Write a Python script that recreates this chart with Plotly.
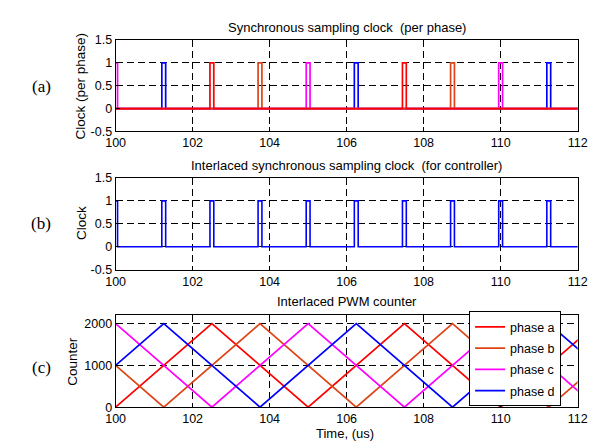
import plotly.graph_objects as go

W, H = 598, 443

# ---------------- data ----------------
phases = ["phase a", "phase b", "phase c", "phase d"]
colors = {"phase a": "#FF0000", "phase b": "#DD4416", "phase c": "#FF00FF", "phase d": "#0000FF"}

# sampling-clock pulse centre times (us) per phase
pulse_times = {
    "phase a": [102.5, 107.5],
    "phase b": [103.75, 108.75],
    "phase c": [100.0, 105.0, 110.0],
    "phase d": [101.25, 106.25, 111.25],
}
pulse_width = 0.1

# PWM counter vertices (time us, counter value)
counter_t = {
    "phase a": [100.0, 102.5, 105.0, 107.5, 110.0, 112.5],
    "phase b": [100.0, 101.25, 103.75, 106.25, 108.75, 111.25, 113.75],
    "phase c": [100.0, 102.5, 105.0, 107.5, 110.0, 112.5],
    "phase d": [100.0, 101.25, 103.75, 106.25, 108.75, 111.25, 113.75],
}
counter_v = {
    "phase a": [0, 2000, 0, 2000, 0, 2000],
    "phase b": [1000, 0, 2000, 0, 2000, 0, 2000],
    "phase c": [2000, 0, 2000, 0, 2000, 0],
    "phase d": [1000, 2000, 0, 2000, 0, 2000, 0],
}

x_ticks = [100, 102, 104, 106, 108, 110, 112]
clock_ticks = [-0.5, 0, 0.5, 1, 1.5]
clock_tick_text = ["-0.5", "0", "0.5", "1", "1.5"]
counter_ticks = [0, 1000, 2000]


def pulse_wave(times, w):
    xs, ys = [98.0], [0]
    for t in sorted(times):
        a, b = t - w / 2, t + w / 2
        xs += [a, a, b, b]
        ys += [0, 1, 1, 0]
    xs.append(114.0)
    ys.append(0)
    return xs, ys


fig = go.Figure()

# (a) per-phase clocks
for p in ["phase d", "phase c", "phase b", "phase a"]:
    xs, ys = pulse_wave(pulse_times[p], pulse_width)
    fig.add_trace(go.Scatter(x=xs, y=ys, mode="lines", line=dict(color=colors[p], width=1.7),
                             showlegend=False, xaxis="x", yaxis="y"))

# (b) interlaced clock
all_times = sorted(t for p in phases for t in pulse_times[p])
xs, ys = pulse_wave(all_times, pulse_width)
fig.add_trace(go.Scatter(x=xs, y=ys, mode="lines", line=dict(color="#0000FF", width=1.6),
                         showlegend=False, xaxis="x2", yaxis="y2"))

# (c) counters
for p in phases:
    fig.add_trace(go.Scatter(x=counter_t[p], y=counter_v[p], mode="lines", name=p,
                             legendgroup=p,
                             line=dict(color=colors[p], width=1.7),
                             xaxis="x3", yaxis="y3"))


def px2x(px):
    return px / W


def py2y(py):
    return 1 - py / H


xdom = [px2x(101), px2x(579)]
doms = {
    "a": [py2y(120.3), py2y(25.7)],
    "b": [py2y(263), py2y(168.3)],
    "c": [py2y(405), py2y(310)],
}

SANS = "Liberation Sans, Arial"
font = dict(family=SANS, size=12.5, color="black")
grid = dict(showgrid=True, gridcolor="black", gridwidth=1, griddash="7px,4px",
            showline=True, linecolor="black", linewidth=1, mirror=True,
            ticks="inside", ticklen=4, tickcolor="black", zeroline=False,
            tickfont=font)

xcommon = dict(range=[100, 112], tickvals=x_ticks, domain=xdom, **grid)

fig.update_layout(
    width=W, height=H,
    margin=dict(l=0, r=0, t=0, b=0),
    paper_bgcolor="white", plot_bgcolor="white",
    font=font,
    xaxis=dict(anchor="y", **xcommon),
    yaxis=dict(anchor="x", domain=doms["a"], range=[-0.5, 1.5], tickvals=clock_ticks,
               ticktext=clock_tick_text, **grid),
    xaxis2=dict(anchor="y2", **xcommon),
    yaxis2=dict(anchor="x2", domain=doms["b"], range=[-0.5, 1.5], tickvals=clock_ticks,
                ticktext=clock_tick_text, **grid),
    xaxis3=dict(anchor="y3", **xcommon),
    yaxis3=dict(anchor="x3", domain=doms["c"], range=[0, 2200], tickvals=counter_ticks, **grid),
    legend=dict(x=px2x(466.7), y=py2y(306), xanchor="left", yanchor="top",
                bgcolor="white", bordercolor="black", borderwidth=1,
                tracegroupgap=2,
                font=dict(family=SANS, size=12.5, color="black")),
)

ann = []
titles = [("Synchronous sampling clock  (per phase)", 13.3),
          ("Interlaced synchronous sampling clock  (for controller)", 155),
          ("Interlaced PWM counter", 296)]
for txt, py in titles:
    ann.append(dict(text=txt, x=px2x(340), y=py2y(py), xref="paper", yref="paper",
                    xanchor="center", yanchor="middle", showarrow=False,
                    font=dict(family=SANS, size=13, color="black")))

ylabels = [("Clock (per phase)", 65, 73), ("Clock", 65, 215), ("Counter", 57, 358)]
for txt, px, py in ylabels:
    ann.append(dict(text=txt, x=px2x(px), y=py2y(py), xref="paper", yref="paper",
                    xanchor="center", yanchor="middle", showarrow=False, textangle=-90,
                    font=dict(family=SANS, size=13.5, color="black")))

panel_labels = [("(a)", 74), ("(b)", 215), ("(c)", 364)]
for txt, py in panel_labels:
    ann.append(dict(text=txt, x=px2x(24), y=py2y(py), xref="paper", yref="paper",
                    xanchor="center", yanchor="middle", showarrow=False,
                    font=dict(family="Liberation Serif, Times New Roman", size=17, color="black")))

ann.append(dict(text="Time, (us)", x=px2x(338), y=py2y(431.7), xref="paper", yref="paper",
                xanchor="center", yanchor="middle", showarrow=False,
                font=dict(family=SANS, size=13, color="black")))

fig.update_layout(annotations=ann)

fig.write_html("out.html")
